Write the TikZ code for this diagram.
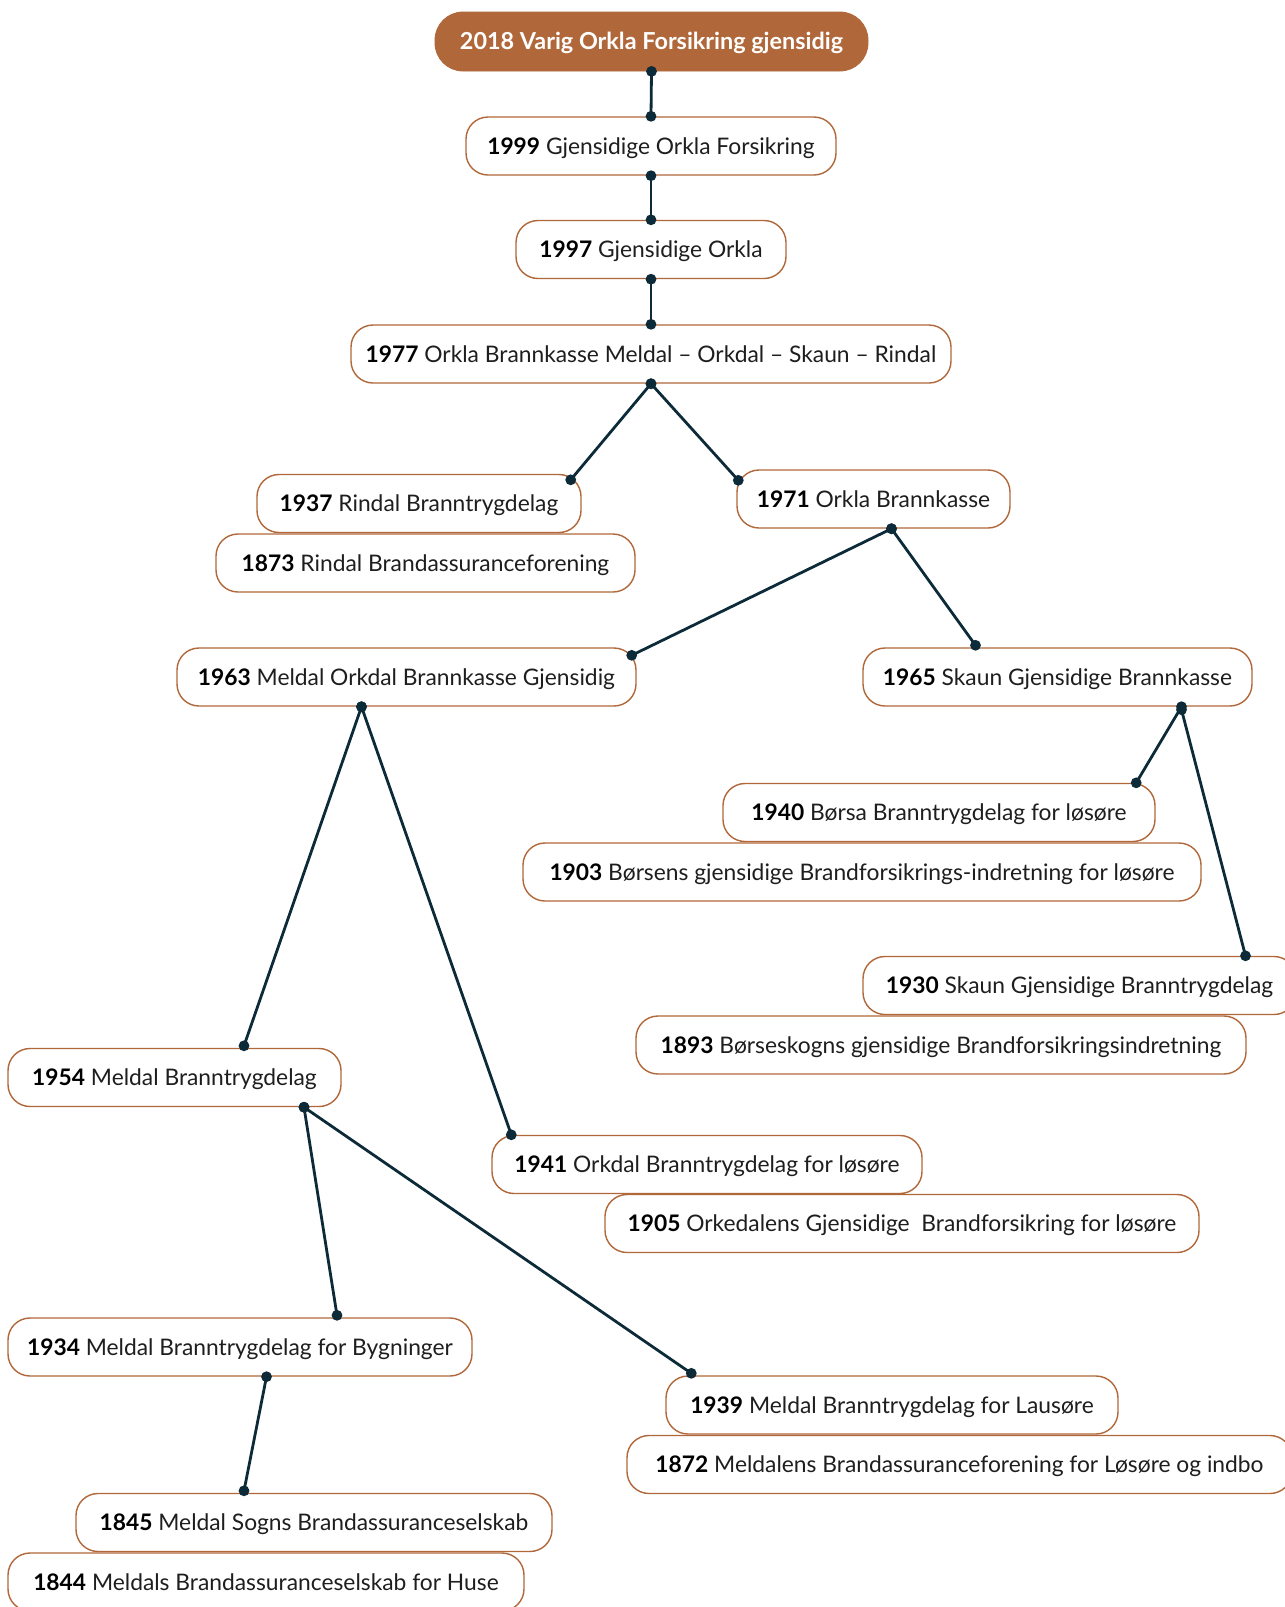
\documentclass[tikz,border=0pt]{standalone}
\usepackage{fontspec}
\setmainfont{Lato}
\usepackage{xcolor}
\definecolor{rust}{RGB}{176, 103, 58}
\definecolor{navy}{RGB}{12, 42, 56}
\definecolor{ink}{RGB}{30, 30, 30}
\usetikzlibrary{positioning, calc}
\tikzset{
  rootbox/.style={rectangle, draw=rust, fill=rust, rounded corners=14pt, minimum width=#1, minimum height=29.5pt, text height=8pt, text depth=0pt, text=white, font=\fontsize{11.7}{14}\selectfont\bfseries},
  yearbox/.style={rectangle, draw=rust, fill=white, rounded corners=11pt, minimum width=#1, minimum height=29pt, text height=8pt, text depth=0pt, line width=0.7pt, text=ink, font=\fontsize{11.4}{13.5}\selectfont},
  link/.style={draw=navy, line width=1.4pt},
}
\newcommand{\yr}[1]{\textbf{\color{black}#1}}
\newcommand{\joint}[2]{\draw[link] (#1) -- (#2); \fill[navy] (#1) circle (2.7pt) (#2) circle (2.7pt);}

\begin{document}
\begin{tikzpicture}[x=0.5pt, y=-0.5pt]
\useasboundingbox (0,0) rectangle (1285,1607);
\node[rootbox=216.5pt] (n2018) at (651.5,41.5) {2018 Varig Orkla Forsikring gjensidig};
\node[yearbox=185pt] (n1999) at (651,146) {\yr{1999} Gjensidige Orkla Forsikring};
\node[yearbox=135pt] (n1997) at (651,249.5) {\yr{1997} Gjensidige Orkla};
\node[yearbox=300pt] (n1977) at (651,354) {\yr{1977} Orkla Brannkasse Meldal -- Orkdal -- Skaun -- Rindal};
\node[yearbox=162pt] (n1937) at (419,503.5) {\yr{1937} Rindal Branntrygdelag};
\node[yearbox=209.5pt] (n1873) at (425.5,563) {\yr{1873} Rindal Brandassuranceforening};
\node[yearbox=136.5pt] (n1971) at (873.5,499) {\yr{1971} Orkla Brannkasse};
\node[yearbox=229.5pt] (n1963) at (406.5,677) {\yr{1963} Meldal Orkdal Brannkasse Gjensidig};
\node[yearbox=194.5pt] (n1965) at (1057.5,677) {\yr{1965} Skaun Gjensidige Brannkasse};
\node[yearbox=216pt] (n1940) at (939,812.5) {\yr{1940} Børsa Branntrygdelag for løsøre};
\node[yearbox=339pt] (n1903) at (862,872) {\yr{1903} Børsens gjensidige Brandforsikrings-indretning for løsøre};
\node[yearbox=216.5pt] (n1930) at (1079.5,985.5) {\yr{1930} Skaun Gjensidige Branntrygdelag};
\node[yearbox=305pt] (n1893) at (941,1045) {\yr{1893} Børseskogns gjensidige Brandforsikringsindretning};
\node[yearbox=166.5pt] (n1954) at (174.5,1077.5) {\yr{1954} Meldal Branntrygdelag};
\node[yearbox=215pt] (n1941) at (707,1164.5) {\yr{1941} Orkdal Branntrygdelag for løsøre};
\node[yearbox=297pt] (n1905) at (902,1223.5) {\yr{1905} Orkedalens Gjensidige\ \ Brandforsikring for løsøre};
\node[yearbox=232pt] (n1934) at (240,1347) {\yr{1934} Meldal Branntrygdelag for Bygninger};
\node[yearbox=226pt] (n1939) at (892,1405) {\yr{1939} Meldal Branntrygdelag for Lausøre};
\node[yearbox=332.5pt] (n1872) at (959.5,1464.5) {\yr{1872} Meldalens Brandassuranceforening for Løsøre og indbo};
\node[yearbox=238pt] (n1845) at (314,1522.5) {\yr{1845} Meldal Sogns Brandassuranceselskab};
\node[yearbox=258pt] (n1844) at (266,1582) {\yr{1844} Meldals Brandassuranceselskab for Huse};

\coordinate (b2018) at (n2018.south);
\coordinate (t1999) at (n1999.north);
\coordinate (b1999) at (n1999.south);
\coordinate (t1997) at (n1997.north);
\coordinate (b1997) at (n1997.south);
\coordinate (t1977) at (n1977.north);
\coordinate (b1977) at (n1977.south);
\coordinate (t1937) at ([xshift=-5.5pt, yshift=-3pt]n1937.north east);
\coordinate (t1971) at ([xshift=1pt, yshift=-5.5pt]n1971.north west);
\coordinate (b1971) at ([xshift=9pt]n1971.south);
\coordinate (t1963) at ([xshift=-2.5pt, yshift=-4pt]n1963.north east);
\coordinate (t1965) at ([xshift=-41pt, yshift=1pt]n1965.north);
\coordinate (b1963) at ([xshift=-22.5pt]n1963.south);
\coordinate (t1954) at ([xshift=34.75pt, yshift=1pt]n1954.north);
\coordinate (t1941) at ([xshift=10pt]n1941.north west);
\coordinate (b1965) at ([xshift=62pt]n1965.south);
\coordinate (c1965) at ([xshift=62pt, yshift=-1.5pt]n1965.south);
\coordinate (t1940) at ([xshift=-9.75pt]n1940.north east);
\coordinate (t1930) at ([xshift=83pt]n1930.north);
\coordinate (b1954) at ([xshift=64.75pt]n1954.south);
\coordinate (t1934) at ([xshift=48.5pt, yshift=1pt]n1934.north);
\coordinate (t1939) at ([xshift=13pt, yshift=1pt]n1939.north west);
\coordinate (b1934) at ([xshift=13.25pt]n1934.south);
\coordinate (t1845) at ([xshift=-35pt, yshift=1pt]n1845.north);

\joint{b2018}{t1999}
\joint{b1999}{t1997}
\joint{b1997}{t1977}
\joint{b1977}{t1937}
\joint{b1977}{t1971}
\joint{b1971}{t1963}
\joint{b1971}{t1965}
\joint{b1963}{t1954}
\joint{b1963}{t1941}
\joint{b1965}{t1940}
\joint{c1965}{t1930}
\joint{b1954}{t1934}
\joint{b1954}{t1939}
\joint{b1934}{t1845}
\end{tikzpicture}
\end{document}
